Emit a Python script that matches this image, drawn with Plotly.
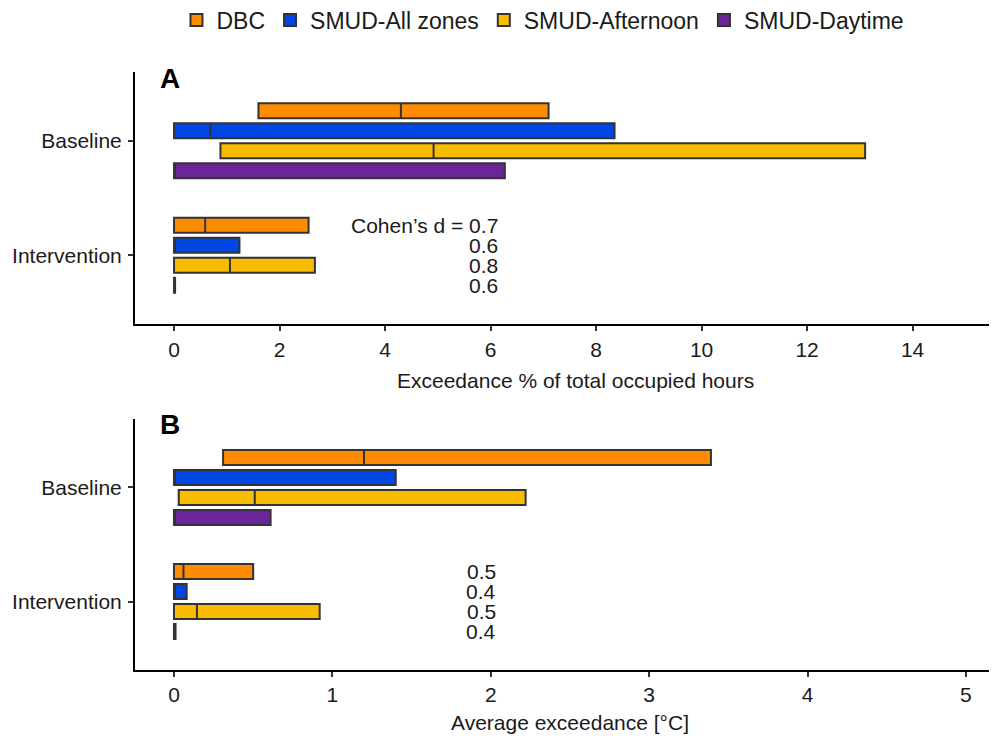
import plotly.graph_objects as go

# ---------------- data ----------------
categories = ["Baseline", "Intervention"]
series = ["DBC", "SMUD-All zones", "SMUD-Afternoon", "SMUD-Daytime"]
colors = ["#FF8C00", "#0047E3", "#F9BC00", "#6A2699"]

# Panel A: Exceedance % of total occupied hours  (per series: [Baseline, Intervention])
A_q1 = {"DBC": [1.6, 0.0], "SMUD-All zones": [0.0, 0.0], "SMUD-Afternoon": [0.88, 0.0], "SMUD-Daytime": [0.0, 0.0]}
A_med = {"DBC": [4.3, 0.59], "SMUD-All zones": [0.69, 0.0], "SMUD-Afternoon": [4.92, 1.06], "SMUD-Daytime": [0.0, 0.0]}
A_q3 = {"DBC": [7.1, 2.55], "SMUD-All zones": [8.35, 1.24], "SMUD-Afternoon": [13.1, 2.67], "SMUD-Daytime": [6.27, 0.02]}
A_d = [0.7, 0.6, 0.8, 0.6]

# Panel B: Average exceedance [°C]
B_q1 = {"DBC": [0.31, 0.0], "SMUD-All zones": [0.0, 0.0], "SMUD-Afternoon": [0.03, 0.0], "SMUD-Daytime": [0.0, 0.0]}
B_med = {"DBC": [1.2, 0.06], "SMUD-All zones": [0.0, 0.0], "SMUD-Afternoon": [0.51, 0.145], "SMUD-Daytime": [0.0, 0.0]}
B_q3 = {"DBC": [3.39, 0.5], "SMUD-All zones": [1.4, 0.08], "SMUD-Afternoon": [2.22, 0.92], "SMUD-Daytime": [0.61, 0.01]}
B_d = [0.5, 0.4, 0.5, 0.4]

A_ticks = [0, 2, 4, 6, 8, 10, 12, 14]
B_ticks = [0, 1, 2, 3, 4, 5]

# ---------------- figure ----------------
FONT = "Liberation Sans, Arial, sans-serif"
FS = 21
OFF = 8            # page body margin
W, H = 989, 728
L = 135 - OFF
PW = W - L

def fy(p):  # page pixel y -> paper fraction
    return 1 - (p - OFF) / H

def fx(p):  # page pixel x -> paper fraction
    return (p - 135) / PW

fig = go.Figure()

for i, s in enumerate(series):
    for (q1, med, q3, xa, ya, show) in [
        (A_q1, A_med, A_q3, "x", "y", True),
        (B_q1, B_med, B_q3, "x2", "y2", False),
    ]:
        fig.add_trace(go.Box(
            y=categories, q1=q1[s], median=med[s], q3=q3[s],
            lowerfence=q1[s], upperfence=q3[s],
            orientation="h", name=s, legendgroup=s, showlegend=show,
            offsetgroup=s,
            fillcolor=colors[i], line=dict(color="#333333", width=2),
            whiskerwidth=0, boxpoints=False, xaxis=xa, yaxis=ya,
            hoverinfo="skip",
        ))

axis_common = dict(showline=True, linecolor="black", linewidth=2, ticks="outside",
                   ticklen=5, tickcolor="#333333", tickwidth=1.5, showgrid=False,
                   zeroline=False, automargin=False,
                   tickfont=dict(size=FS, color="#1a1a1a", family=FONT))

fig.update_layout(
    width=W, height=H,
    margin=dict(l=L, r=0, t=0, b=0, autoexpand=False),
    plot_bgcolor="white", paper_bgcolor="white",
    font=dict(family=FONT, size=FS, color="#1a1a1a"),
    boxmode="group", boxgap=0.3, boxgroupgap=0.25,
    xaxis=dict(domain=[0, 1], anchor="y", range=[-0.74, 15.6], tickvals=A_ticks,
               ticklabelstandoff=1, **axis_common),
    yaxis=dict(domain=[fy(324), fy(72)], anchor="x", type="category",
               categoryorder="array", categoryarray=categories, range=[1.6, -0.6],
               ticklabelstandoff=2, **axis_common),
    xaxis2=dict(domain=[0, 1], anchor="y2", range=[-0.246, 5.196], tickvals=B_ticks,
                ticklabelstandoff=0, **axis_common),
    yaxis2=dict(domain=[fy(670), fy(419)], anchor="x2", type="category",
                categoryorder="array", categoryarray=categories, range=[1.6, -0.6],
                ticklabelstandoff=2, **axis_common),
    legend=dict(orientation="h", x=fx(543), xanchor="center",
                y=fy(20), yanchor="middle", font=dict(size=23, family=FONT),
                itemwidth=30, tracegroupgap=0),
)

annotations = []
iv = categories.index("Intervention")
shifts = [30, 10, -10, -30]
for k in range(4):
    txtA = ("Cohen’s d = " if k == 0 else "") + f"{A_d[k]}"
    annotations.append(dict(xref="x", yref="y", x=6.17, y=iv, yshift=shifts[k],
                            text=txtA, showarrow=False, xanchor="right", yanchor="middle",
                            font=dict(size=FS, family=FONT, color="#1a1a1a")))
    annotations.append(dict(xref="x2", yref="y2", x=2.045, y=iv, yshift=shifts[k],
                            text=f"{B_d[k]}", showarrow=False, xanchor="right", yanchor="middle",
                            font=dict(size=FS, family=FONT, color="#1a1a1a")))

annotations += [
    dict(xref="paper", yref="paper", x=fx(170), y=fy(78), text="<b>A</b>",
         xanchor="center", yanchor="middle",
         showarrow=False, font=dict(size=28, family=FONT, color="black")),
    dict(xref="paper", yref="paper", x=fx(170), y=fy(424), text="<b>B</b>",
         xanchor="center", yanchor="middle",
         showarrow=False, font=dict(size=28, family=FONT, color="black")),
    dict(xref="paper", yref="paper", x=fx(575), y=fy(380),
         text="Exceedance % of total occupied hours", showarrow=False,
         xanchor="center", yanchor="middle",
         font=dict(size=FS, family=FONT, color="#1a1a1a")),
    dict(xref="paper", yref="paper", x=fx(570), y=fy(722),
         text="Average exceedance [°C]", showarrow=False,
         xanchor="center", yanchor="middle",
         font=dict(size=FS, family=FONT, color="#1a1a1a")),
]
fig.update_layout(annotations=annotations)

fig.write_html("out.html")
